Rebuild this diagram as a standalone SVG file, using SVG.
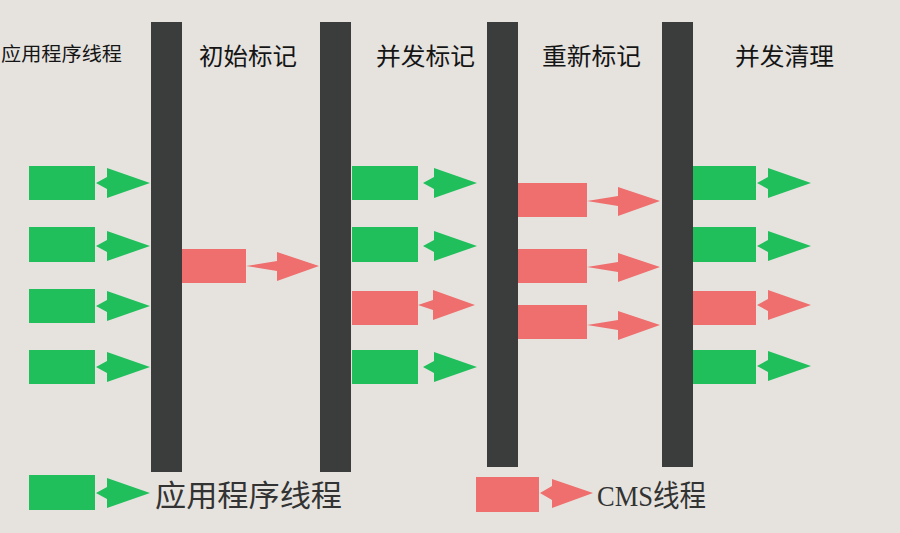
<svg xmlns="http://www.w3.org/2000/svg" xmlns:xlink="http://www.w3.org/1999/xlink" width="900" height="533" viewBox="0 0 900 533">
<style>
.bg{fill:#e6e3df}
.bar{fill:#3a3d3b}
.g{fill:#21bf5b}
.r{fill:#ee6f6d}
.t{font-family:"Noto Sans CJK SC","Noto Sans",sans-serif;fill:#151515}
.lg{font-family:"Liberation Serif","Noto Sans CJK SC",serif;fill:#333}
</style>
<defs>
<path id="ag" d="M0,0 L11,-6 L11,-15 L54,0 L11,15 L11,6 Z"/>
<path id="ar" d="M0,0 L31,-5 L31,-14 L73,0 L31,15 L31,5 Z"/>
<path id="as" d="M0,0 L15,-5 L15,-15 L57,0 L15,15 L15,5 Z"/>
</defs>
<rect class="bg" x="0" y="0" width="900" height="533"/>

<g id="bars">
<rect id="bar1" class="bar" x="151" y="22" width="31" height="450"/>
<rect id="bar2" class="bar" x="320" y="22" width="31" height="450"/>
<rect id="bar3" class="bar" x="487" y="22" width="31" height="445"/>
<rect id="bar4" class="bar" x="662" y="22" width="31" height="445"/>
</g>

<g id="labels">
<text class="t" x="1" y="61" font-size="19" textLength="121" lengthAdjust="spacingAndGlyphs">应用程序线程</text>
<text class="t" x="199" y="65" font-size="24" textLength="98" lengthAdjust="spacingAndGlyphs">初始标记</text>
<text class="t" x="376" y="65" font-size="24" textLength="99" lengthAdjust="spacingAndGlyphs">并发标记</text>
<text class="t" x="542" y="65" font-size="24" textLength="99" lengthAdjust="spacingAndGlyphs">重新标记</text>
<text class="t" x="735" y="65" font-size="24" textLength="99" lengthAdjust="spacingAndGlyphs">并发清理</text>
</g>

<g id="col1">
<rect class="g" x="29" y="166" width="66" height="34"/>
<rect class="g" x="29" y="227" width="66" height="35"/>
<rect class="g" x="29" y="289" width="66" height="34"/>
<rect class="g" x="29" y="350" width="66" height="34"/>
</g>
<g id="col2">
<rect class="r" x="182" y="249" width="64" height="34"/>
</g>
<g id="col3">
<rect class="g" x="352" y="166" width="66" height="34"/>
<rect class="g" x="352" y="227" width="66" height="35"/>
<rect class="r" x="352" y="291" width="66" height="34"/>
<rect class="g" x="352" y="350" width="66" height="34"/>
</g>
<g id="col4">
<rect class="r" x="518" y="183" width="69" height="34"/>
<rect class="r" x="518" y="249" width="69" height="34"/>
<rect class="r" x="518" y="305" width="69" height="34"/>
</g>
<g id="col5">
<rect class="g" x="693" y="166" width="63" height="34"/>
<rect class="g" x="693" y="227" width="63" height="35"/>
<rect class="r" x="693" y="291" width="63" height="34"/>
<rect class="g" x="693" y="350" width="63" height="34"/>
</g>

<g id="connectors">
<use href="#ag" class="g" x="96" y="183"/>
<use href="#ag" class="g" x="96" y="246"/>
<use href="#ag" class="g" x="96" y="306"/>
<use href="#ag" class="g" x="96" y="367"/>
<use href="#ar" class="r" x="246" y="266"/>
<use href="#ag" class="g" x="423" y="183"/>
<use href="#ag" class="g" x="423" y="246"/>
<use href="#as" class="r" x="418" y="305"/>
<use href="#ag" class="g" x="423" y="367"/>
<use href="#ar" class="r" x="587" y="201"/>
<use href="#ar" class="r" x="587" y="267"/>
<use href="#ar" class="r" x="587" y="325"/>
<use href="#ag" class="g" x="757" y="183"/>
<use href="#ag" class="g" x="757" y="246"/>
<use href="#ag" class="r" x="757" y="305"/>
<use href="#ag" class="g" x="757" y="366"/>
</g>

<g id="legend">
<g id="legend-app">
<rect class="g" x="29" y="475" width="66" height="35"/>
<use href="#ag" class="g" x="96" y="493"/>
<text class="lg" x="155" y="506" font-size="30" textLength="187" lengthAdjust="spacingAndGlyphs">应用程序线程</text>
</g>
<g id="legend-cms">
<rect class="r" x="476" y="477" width="63" height="35"/>
<path class="r" d="M540,493 L552,486 L552,479 L593,493 L552,508 L552,500 Z"/>
<text class="lg" x="597" y="506" font-size="30" textLength="109" lengthAdjust="spacingAndGlyphs">CMS线程</text>
</g>
</g>
</svg>
